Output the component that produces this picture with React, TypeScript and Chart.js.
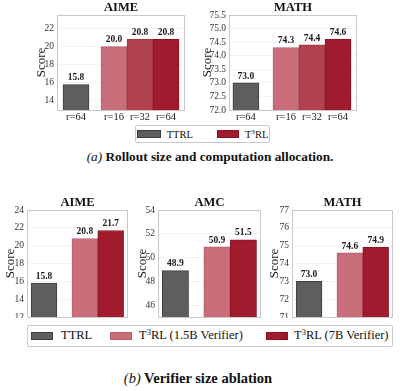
import React, { useEffect, useRef } from "react";
import { Chart, registerables } from "chart.js";

Chart.register(...registerables);

// ---------- data ----------
const topAimeLabels = ["r=64", "r=16", "r=32", "r=64"];
const topAimeValues = [15.8, 20.0, 20.8, 20.8];
const topAimeTicks = [14, 16, 18, 20, 22];

const topMathLabels = ["r=64", "r=16", "r=32", "r=64"];
const topMathValues = [73.0, 74.3, 74.4, 74.6];
const topMathTicks = [72.0, 72.5, 73.0, 73.5, 74.0, 74.5, 75.0, 75.5];

const bottomAimeValues = [15.8, 20.8, 21.7];
const bottomAimeTicks = [12, 14, 16, 18, 20, 22, 24];

const bottomAmcValues = [48.9, 50.9, 51.5];
const bottomAmcTicks = [46, 48, 50, 52, 54];

const bottomMathValues = [73.0, 74.6, 74.9];
const bottomMathTicks = [71, 72, 73, 74, 75, 76, 77];

const topLegend = ["TTRL", "T3RL"];
const bottomLegend = ["TTRL", "T3RL (1.5B Verifier)", "T3RL (7B Verifier)"];

// ---------- styles ----------
const GRAY = "#5e5e5e";
const GRAY_B = "#3e3e3e";
const RED_L = "#c86d7a";
const RED_L_B = "#b85d6b";
const RED_M = "#b2414f";
const RED_M_B = "#a03644";
const RED_D = "#a11b2f";
const RED_D_B = "#8a1426";
const SERIF = "'Liberation Serif', 'Times New Roman', serif";

const framePlugin = {
  id: "frame",
  beforeDatasetsDraw(chart: any) {
    const { ctx, chartArea: a } = chart;
    ctx.save();
    ctx.strokeStyle = "#c9c9c9";
    ctx.lineWidth = 1;
    ctx.strokeRect(Math.round(a.left) + 0.5, Math.round(a.top) + 0.5, Math.round(a.right - a.left) - 1, Math.round(a.bottom - a.top));
    ctx.restore();
  },
};

const valuePlugin = {
  id: "values",
  afterDatasetsDraw(chart: any) {
    const { ctx } = chart;
    const meta = chart.getDatasetMeta(0);
    const ds = chart.data.datasets[0];
    ctx.save();
    ctx.font = `bold 9.5px ${SERIF}`;
    ctx.fillStyle = "#1a1a1a";
    ctx.textAlign = "center";
    ctx.textBaseline = "bottom";
    meta.data.forEach((el: any, i: number) => {
      ctx.fillText(Number(ds.data[i].y).toFixed(1), el.x, el.y - 2);
    });
    ctx.restore();
  },
};

type PanelProps = {
  title: string;
  values: number[];
  slots: number[];
  xMin: number;
  xMax: number;
  xLabels: string[] | null;
  yMin: number;
  yMax: number;
  yTicks: number[];
  decimals: number;
  colors: string[];
  borders: string[];
  x: number;
  y: number;
  w: number;
  h: number;
  yAxisW: number;
  yTitlePad: number;
  xAxisH: number;
  padRight: number;
  padBottom: number;
};

function Panel(p: PanelProps) {
  const ref = useRef<HTMLCanvasElement>(null);
  useEffect(() => {
    const chart = new Chart(ref.current as HTMLCanvasElement, {
      type: "bar",
      data: {
        datasets: [
          {
            data: p.values.map((v, i) => ({ x: p.slots[i], y: v })),
            backgroundColor: p.colors,
            borderColor: p.borders,
            borderWidth: 1,
            categoryPercentage: 1,
            barPercentage: 1,
          } as any,
        ],
      },
      options: {
        responsive: false,
        animation: false,
        devicePixelRatio: 1,
        layout: { padding: { left: 0, right: p.padRight, top: 0, bottom: p.padBottom } },
        plugins: {
          legend: { display: false },
          tooltip: { enabled: false },
          title: {
            display: true,
            text: p.title,
            fullSize: false,
            color: "#111",
            font: { family: SERIF, size: 12.5, weight: "bold" },
            padding: { top: 0, bottom: 0 },
          } as any,
        },
        scales: {
          x: {
            type: "linear",
            min: p.xMin,
            max: p.xMax,
            offset: false,
            grid: { display: false, offset: false, drawTicks: false },
            border: { display: false },
            afterBuildTicks: (s: any) => {
              s.ticks = p.slots.map((v) => ({ value: v }));
            },
            afterFit: (s: any) => {
              s.height = p.xAxisH;
              s.paddingLeft = 0;
              s.paddingRight = 0;
            },
            ticks: {
              display: !!p.xLabels,
              autoSkip: false,
              maxRotation: 0,
              minRotation: 0,
              padding: 1,
              color: "#222",
              font: { family: SERIF, size: 10.5 },
              callback: (_v: any, i: number) => (p.xLabels ? p.xLabels[i] : ""),
            },
          } as any,
          y: {
            type: "linear",
            min: p.yMin,
            max: p.yMax,
            grid: { color: "rgba(0,0,0,0.06)", lineWidth: 0.8, drawTicks: false },
            border: { display: false },
            afterBuildTicks: (s: any) => {
              s.ticks = p.yTicks.map((v) => ({ value: v }));
            },
            afterFit: (s: any) => {
              s.width = p.yAxisW;
              s.paddingTop = 0;
              s.paddingBottom = 0;
            },
            ticks: {
              autoSkip: false,
              padding: 3,
              color: "#333",
              font: { family: SERIF, size: 9.5 },
              callback: (v: any) => Number(v).toFixed(p.decimals),
            },
            title: {
              display: true,
              text: "Score",
              color: "#222",
              font: { family: SERIF, size: 13 },
              padding: { top: p.yTitlePad, bottom: 0 },
            },
          } as any,
        },
      },
      plugins: [framePlugin, valuePlugin],
    });
    return () => chart.destroy();
  }, []);
  return (
    <canvas
      ref={ref}
      width={p.w}
      height={p.h}
      style={{ position: "absolute", left: p.x, top: p.y, width: p.w, height: p.h }}
    />
  );
}

function Swatch({ color, border, w, h }: { color: string; border: string; w: number; h: number }) {
  return (
    <span
      style={{
        display: "inline-block",
        width: w,
        height: h,
        background: color,
        border: `1px solid ${border}`,
        boxSizing: "border-box",
      }}
    />
  );
}

function LegendText({ text }: { text: string }) {
  if (text.startsWith("T3RL")) {
    return (
      <span>
        T<span style={{ fontSize: "0.68em", position: "relative", top: "-0.5em" }}>3</span>
        {text.slice(2)}
      </span>
    );
  }
  return <span>{text}</span>;
}

export default function App() {
  const topColors = [GRAY, RED_L, RED_M, RED_D];
  const topBorders = [GRAY_B, RED_L_B, RED_M_B, RED_D_B];
  const botColors = [GRAY, RED_L, RED_D];
  const botBorders = [GRAY_B, RED_L_B, RED_D_B];
  const topSlotsA = [0, 1.46, 2.46, 3.46];
  const topSlotsM = [0, 1.54, 2.54, 3.54];
  const botSlots = [0, 1.58, 2.58];

  return (
    <div
      style={{
        position: "absolute",
        left: 0,
        top: 0,
        width: 400,
        height: 391,
        background: "#fff",
        fontFamily: SERIF,
        color: "#111",
        overflow: "hidden",
      }}
    >
      <Panel
        title="AIME"
        values={topAimeValues}
        slots={topSlotsA}
        xMin={-0.73}
        xMax={4.19}
        xLabels={topAimeLabels}
        yMin={13}
        yMax={23.5}
        yTicks={topAimeTicks}
        decimals={0}
        colors={topColors}
        borders={topBorders}
        x={0}
        y={0}
        w={190}
        h={123}
        yAxisW={57}
        yTitlePad={34}
        xAxisH={13}
        padRight={5}
        padBottom={0}
      />
      <Panel
        title="MATH"
        values={topMathValues}
        slots={topSlotsM}
        xMin={-0.65}
        xMax={4.27}
        xLabels={topMathLabels}
        yMin={72}
        yMax={75.5}
        yTicks={topMathTicks}
        decimals={1}
        colors={topColors}
        borders={topBorders}
        x={190}
        y={0}
        w={172}
        h={123}
        yAxisW={39}
        yTitlePad={10}
        xAxisH={13}
        padRight={5}
        padBottom={0}
      />

      {/* top legend */}
      <div
        style={{
          position: "absolute",
          left: 135,
          top: 125,
          width: 135,
          height: 18,
          boxSizing: "border-box",
          border: "1px solid #c8c8c8",
          borderRadius: 2,
          display: "flex",
          alignItems: "center",
          justifyContent: "center",
          gap: 6,
          fontSize: 10.5,
          whiteSpace: "nowrap",
        }}
      >
        <Swatch color={GRAY} border={GRAY_B} w={24} h={8} />
        <LegendText text={topLegend[0]} />
        <span style={{ width: 12 }} />
        <Swatch color={RED_D} border={RED_D_B} w={22} h={8} />
        <LegendText text={topLegend[1]} />
      </div>

      <div
        style={{
          position: "absolute",
          left: 0,
          top: 149,
          width: 420,
          textAlign: "center",
          fontSize: 13.3,
          fontWeight: "bold",
          whiteSpace: "nowrap",
        }}
      >
        <span style={{ fontStyle: "italic", fontWeight: "normal" }}>(a)</span> Rollout size and computation allocation.
      </div>

      <Panel
        title="AIME"
        values={bottomAimeValues}
        slots={botSlots}
        xMin={-0.66}
        xMax={3.25}
        xLabels={null}
        yMin={12}
        yMax={24}
        yTicks={bottomAimeTicks}
        decimals={0}
        colors={botColors}
        borders={botBorders}
        x={0}
        y={195}
        w={133}
        h={123}
        yAxisW={27}
        yTitlePad={3}
        xAxisH={0}
        padRight={5}
        padBottom={1}
      />
      <Panel
        title="AMC"
        values={bottomAmcValues}
        slots={botSlots}
        xMin={-0.66}
        xMax={3.25}
        xLabels={null}
        yMin={45}
        yMax={54}
        yTicks={bottomAmcTicks}
        decimals={0}
        colors={botColors}
        borders={botBorders}
        x={133}
        y={195}
        w={133}
        h={123}
        yAxisW={25}
        yTitlePad={2}
        xAxisH={0}
        padRight={5}
        padBottom={1}
      />
      <Panel
        title="MATH"
        values={bottomMathValues}
        slots={botSlots}
        xMin={-0.66}
        xMax={3.25}
        xLabels={null}
        yMin={71}
        yMax={77}
        yTicks={bottomMathTicks}
        decimals={0}
        colors={botColors}
        borders={botBorders}
        x={266}
        y={195}
        w={132}
        h={123}
        yAxisW={26}
        yTitlePad={1}
        xAxisH={0}
        padRight={5}
        padBottom={1}
      />

      {/* bottom legend */}
      <div
        style={{
          position: "absolute",
          left: 27,
          top: 325,
          width: 366,
          height: 22,
          boxSizing: "border-box",
          border: "1px solid #c8c8c8",
          borderRadius: 2,
          fontSize: 12.5,
          whiteSpace: "nowrap",
        }}
      >
        <span style={{ position: "absolute", left: 3, top: 6, lineHeight: 0 }}>
          <Swatch color={GRAY} border={GRAY_B} w={22} h={8} />
        </span>
        <span style={{ position: "absolute", left: 33, top: 2 }}>
          <LegendText text={bottomLegend[0]} />
        </span>
        <span style={{ position: "absolute", left: 82, top: 6, lineHeight: 0 }}>
          <Swatch color={RED_L} border={RED_L_B} w={22} h={8} />
        </span>
        <span style={{ position: "absolute", left: 111, top: 2 }}>
          <LegendText text={bottomLegend[1]} />
        </span>
        <span style={{ position: "absolute", left: 238, top: 6, lineHeight: 0 }}>
          <Swatch color={RED_D} border={RED_D_B} w={22} h={8} />
        </span>
        <span style={{ position: "absolute", left: 266, top: 2 }}>
          <LegendText text={bottomLegend[2]} />
        </span>
      </div>

      <div
        style={{
          position: "absolute",
          left: 0,
          top: 370,
          width: 396,
          textAlign: "center",
          fontSize: 14.5,
          fontWeight: "bold",
          whiteSpace: "nowrap",
        }}
      >
        <span style={{ fontStyle: "italic", fontWeight: "normal" }}>(b)</span> Verifier size ablation
      </div>
    </div>
  );
}
